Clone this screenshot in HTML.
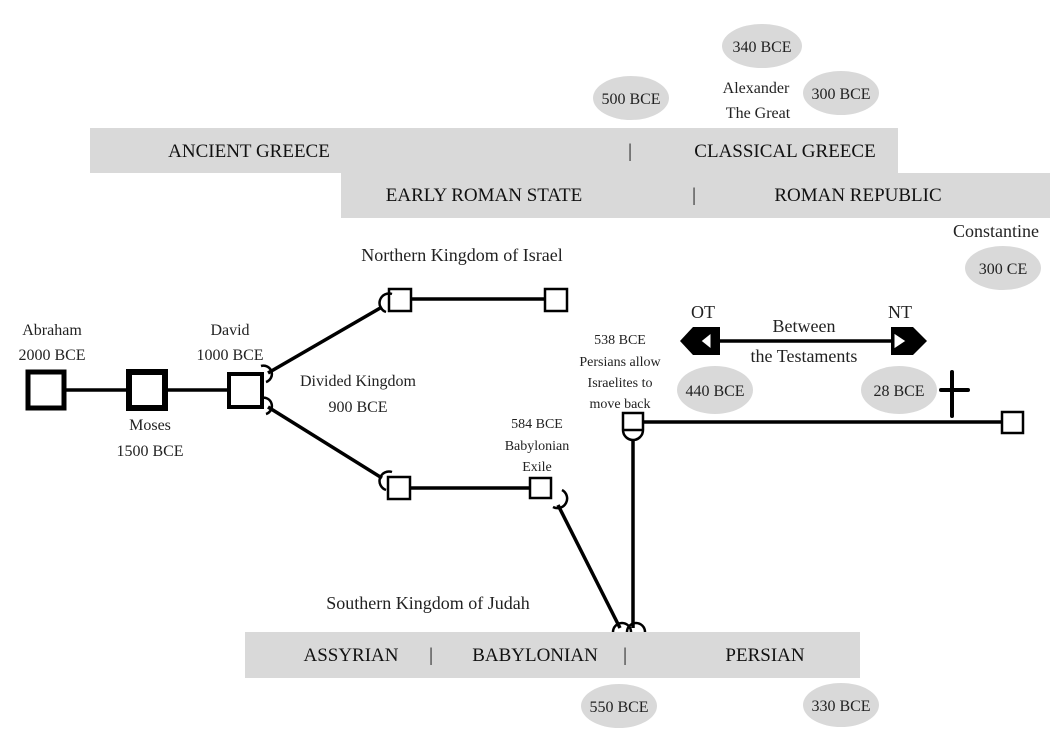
<!DOCTYPE html>
<html><head><meta charset="utf-8"><style>
html,body{margin:0;padding:0;background:#fff;}
svg{display:block;font-family:"Liberation Serif",serif;}
</style></head><body>
<svg width="1050" height="750" viewBox="0 0 1050 750" xmlns="http://www.w3.org/2000/svg">
<rect width="1050" height="750" fill="#fff"/>
<!-- bands -->
<rect x="90" y="128" width="808" height="45" fill="#d9d9d9"/>
<rect x="341" y="173" width="709" height="45" fill="#d9d9d9"/>
<rect x="245" y="632" width="615" height="46" fill="#d9d9d9"/>
<g font-size="19" fill="#111" text-anchor="middle">
<text x="249" y="157">ANCIENT GREECE</text>
<text x="630" y="157">|</text>
<text x="785" y="157">CLASSICAL GREECE</text>
<text x="484" y="201">EARLY ROMAN STATE</text>
<text x="694" y="201">|</text>
<text x="858" y="201">ROMAN REPUBLIC</text>
<text x="351" y="661">ASSYRIAN</text>
<text x="431" y="661">|</text>
<text x="535" y="661">BABYLONIAN</text>
<text x="625" y="661">|</text>
<text x="765" y="661">PERSIAN</text>
</g>
<!-- ellipses -->
<g fill="#d9d9d9">
<ellipse cx="762" cy="46" rx="40" ry="22"/>
<ellipse cx="631" cy="98" rx="38" ry="22"/>
<ellipse cx="841" cy="93" rx="38" ry="22"/>
<ellipse cx="1003" cy="268" rx="38" ry="22"/>
<ellipse cx="715" cy="390" rx="38" ry="24"/>
<ellipse cx="899" cy="390" rx="38" ry="24"/>
<ellipse cx="619" cy="706" rx="38" ry="22"/>
<ellipse cx="841" cy="705" rx="38" ry="22"/>
</g>
<g font-size="16" fill="#222" text-anchor="middle">
<text x="762" y="52">340 BCE</text>
<text x="631" y="104">500 BCE</text>
<text x="841" y="99">300 BCE</text>
<text x="756" y="93">Alexander</text>
<text x="758" y="118">The Great</text>
<text x="1003" y="274">300 CE</text>
<text x="996" y="237" font-size="18">Constantine</text>
<text x="715" y="396">440 BCE</text>
<text x="899" y="396">28 BCE</text>
<text x="619" y="712">550 BCE</text>
<text x="841" y="711">330 BCE</text>
<text x="52" y="335">Abraham</text>
<text x="52" y="360">2000 BCE</text>
<text x="150" y="430">Moses</text>
<text x="150" y="456">1500 BCE</text>
<text x="230" y="335">David</text>
<text x="230" y="360">1000 BCE</text>
<text x="358" y="386">Divided Kingdom</text>
<text x="358" y="412">900 BCE</text>
<text x="462" y="261" font-size="18">Northern Kingdom of Israel</text>
<text x="428" y="609" font-size="18">Southern Kingdom of Judah</text>
<text x="620" y="344" font-size="14">538 BCE</text>
<text x="620" y="366" font-size="14">Persians allow</text>
<text x="620" y="387" font-size="14">Israelites to</text>
<text x="620" y="408" font-size="14">move back</text>
<text x="537" y="428" font-size="14">584 BCE</text>
<text x="537" y="450" font-size="14">Babylonian</text>
<text x="537" y="471" font-size="14">Exile</text>
<text x="703" y="318" font-size="18">OT</text>
<text x="900" y="318" font-size="18">NT</text>
<text x="804" y="332" font-size="18">Between</text>
<text x="804" y="362" font-size="18">the Testaments</text>
</g>
<!-- lines -->
<g stroke="#000" stroke-width="3.5" fill="none">
<line x1="63" y1="390" x2="130" y2="390"/>
<line x1="165" y1="390" x2="228" y2="390"/>
<line x1="268" y1="373" x2="382" y2="307"/>
<line x1="268" y1="407" x2="382" y2="478"/>
<line x1="411" y1="299" x2="545" y2="299"/>
<line x1="410" y1="488" x2="530" y2="488"/>
<line x1="558" y1="505" x2="620" y2="628"/>
<line x1="633" y1="440" x2="633" y2="628"/>
<line x1="644" y1="422" x2="1002" y2="422"/>
<line x1="700" y1="341" x2="912" y2="341"/>
</g>
<!-- squares -->
<g fill="#fff" stroke="#000">
<rect x="28" y="372" width="36" height="36" stroke-width="5"/>
<rect x="129" y="372" width="36" height="36" stroke-width="6"/>
<rect x="229" y="374" width="33" height="33" stroke-width="4"/>
<rect x="389" y="289" width="22" height="22" stroke-width="2.5"/>
<rect x="545" y="289" width="22" height="22" stroke-width="2.5"/>
<rect x="388" y="477" width="22" height="22" stroke-width="2.5"/>
<rect x="530" y="478" width="21" height="20" stroke-width="2.5"/>
<rect x="1002" y="412" width="21" height="21" stroke-width="2.5"/>
<path d="M623 413 H643 V430 A10 10 0 0 1 623 430 Z" stroke-width="2.5"/>
</g>
<g stroke="#000" stroke-width="2.5" fill="none">
<line x1="623" y1="430" x2="643" y2="430"/>
<path d="M261 366 A8 8 0 0 1 266 382"/>
<path d="M261 398 A8 8 0 0 1 266 414"/>
<path d="M392 294 A9 9 0 0 0 386 312"/>
<path d="M392 472 A9 9 0 0 0 386 490"/>
<path d="M562 490 A9 9 0 0 1 553 507"/>
<path d="M613 632 A9 9 0 0 1 631 632"/>
<path d="M627 632 A9 9 0 0 1 645 632"/>
</g>
<!-- cross -->
<g stroke="#000" stroke-width="4" stroke-linecap="round">
<line x1="952" y1="372" x2="952" y2="416"/>
<line x1="941" y1="390" x2="968" y2="390"/>
</g>
<!-- arrows -->
<path d="M680 341 L693 327 H720 V355 H693 Z" fill="#000"/>
<path d="M701 341 L711 333 V349 Z" fill="#fff" stroke="#000" stroke-width="1"/>
<path d="M927 341 L913 327 H891 V355 H913 Z" fill="#000"/>
<path d="M906 341 L894 333 V349 Z" fill="#fff" stroke="#000" stroke-width="1"/>
</svg>
</body></html>
